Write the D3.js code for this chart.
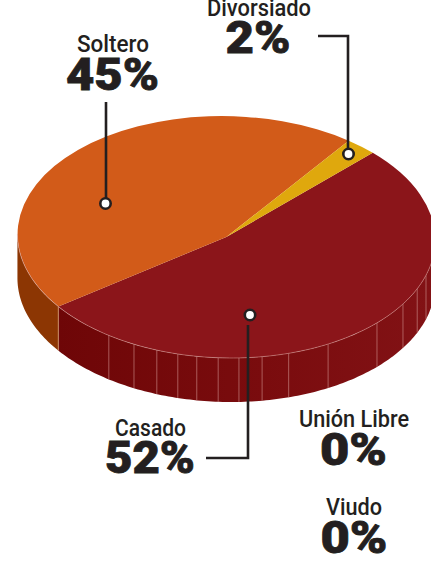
<!DOCTYPE html>
<html><head><meta charset="utf-8">
<script src="https://cdn.jsdelivr.net/npm/d3@7"></script>
<style>html,body{margin:0;padding:0;background:#fff;overflow:hidden}svg{display:block}</style>
</head><body><svg id="c" width="431" height="564"></svg>
<script>
const categories = ["Casado","Soltero","Divorsiado","Unión Libre","Viudo"];
const shares = [52.4,45,2.4,0,0];
const topColors = ["#8b151a","#d25b19","#dfa80d","#000","#000"];
const wallSeamAngles = [215.6,207.6,200.8,194.8,189.5,183.6,177.9,171.5,164,152.2,135.2,123.6,115.3,108.4];

const W=431,H=564,cx=226.3,cy=237,rx=208.8,ry=121,skew=5,depth=44,ink="#231f20";
const svg=d3.select("#c");
const defs=svg.append("defs");
const grad=defs.append("linearGradient").attr("id","wall").attr("gradientUnits","userSpaceOnUse")
  .attr("x1",57).attr("x2",431).attr("y1",0).attr("y2",0);
grad.append("stop").attr("offset",0).attr("stop-color","#6e0607");
grad.append("stop").attr("offset",.55).attr("stop-color","#7a0c0e");
grad.append("stop").attr("offset",1).attr("stop-color","#821215");

const rad=d=>d*Math.PI/180, deg=r=>r*180/Math.PI;
const X=d3.scaleLinear().domain([-1,1]).range([cx-rx,cx+rx]);
const Y=d3.scaleLinear().domain([-1,1]).range([cy-ry,cy+ry]);
const px=a=>X(Math.sin(rad(a)))-skew*Math.cos(rad(a)), py=a=>Y(-Math.cos(rad(a)));

const pie=d3.pie().value(d=>d).sort(null).startAngle(rad(45.9)).endAngle(rad(405.9));
const arcs=pie(shares);

// side wall
const wallArea=d3.area().x(px).y0(py).y1(a=>py(a)+depth);
const cas=arcs[0];
const samples=(a,b)=>{const s=d3.range(a,b,1);s.push(b);return s;};
const edgeR=91.4, edgeL=271.4, split=deg(cas.endAngle);
svg.append("path").attr("d",wallArea(samples(split,edgeL))).attr("fill","#8c3603");
svg.append("path").attr("d",wallArea(samples(edgeR,split))).attr("fill","url(#wall)");
svg.selectAll("line.seam").data(wallSeamAngles).join("line").attr("class","seam")
  .attr("x1",px).attr("x2",px).attr("y1",py).attr("y2",a=>py(a)+depth)
  .attr("stroke","#c98a88").attr("stroke-width",.8).attr("stroke-opacity",.8);
svg.append("line").attr("x1",px(split)).attr("x2",px(split))
  .attr("y1",py(split)).attr("y2",py(split)+depth)
  .attr("stroke","#d9a070").attr("stroke-width",.8);

// top ellipse
const arc=d3.arc().innerRadius(0).outerRadius(1);
const topG=svg.append("g").attr("transform",`matrix(${rx},0,${skew},${ry},${cx},${cy})`);
topG.selectAll("path").data(arcs.filter(d=>d.data>0)).join("path")
  .attr("d",arc).attr("fill",d=>topColors[d.index]);
// light rim along the front edge
svg.append("path").datum(samples(edgeR,edgeL))
  .attr("d",d3.line().x(px).y(py)).attr("fill","none")
  .attr("stroke","#d9a09a").attr("stroke-width",.7).attr("stroke-opacity",.75);

// leaders
const leader=d3.line();
const leaders=[
  [[106,102],[106,198]],
  [[318,36],[348,36],[348,149]],
  [[248,325],[248,458],[206,458]]
];
svg.selectAll("path.lead").data(leaders).join("path").attr("class","lead")
  .attr("d",leader).attr("fill","none").attr("stroke",ink).attr("stroke-width",2.6);
const dots=[[105.5,203.5],[348.5,154],[250,315]];
svg.selectAll("circle").data(dots).join("circle")
  .attr("cx",d=>d[0]).attr("cy",d=>d[1]).attr("r",5.2)
  .attr("fill","#fff").attr("stroke",ink).attr("stroke-width",2.6);

// labels
const labelLayout=[
  {nx:150.5,nw:71,ny:436,px:150,pw:90,py:473},
  {nx:113,nw:72,ny:52,px:112.5,pw:93,py:90},
  {nx:259,nw:104,ny:16,px:258,pw:65,py:53},
  {nx:354,nw:110,ny:427,px:353.5,pw:67,py:465},
  {nx:354,nw:56,ny:515,px:354,pw:67,py:553}
];
const txt=svg.append("g").attr("text-anchor","middle").attr("fill",ink);
categories.forEach((c,i)=>{
  const l=labelLayout[i];
  txt.append("text").attr("x",l.nx).attr("y",l.ny).text(c)
    .attr("font-family","Roboto,'Liberation Sans',sans-serif").attr("font-weight",500)
    .attr("font-size",24).attr("textLength",l.nw).attr("lengthAdjust","spacingAndGlyphs");
  txt.append("text").attr("x",l.px).attr("y",l.py).text(Math.round(shares[i])+"%")
    .attr("font-family","Roboto,'Liberation Sans',sans-serif").attr("font-weight",900)
    .attr("font-size",45).attr("stroke",ink).attr("stroke-width",.8)
    .attr("textLength",l.pw).attr("lengthAdjust","spacingAndGlyphs");
});
</script></body></html>
